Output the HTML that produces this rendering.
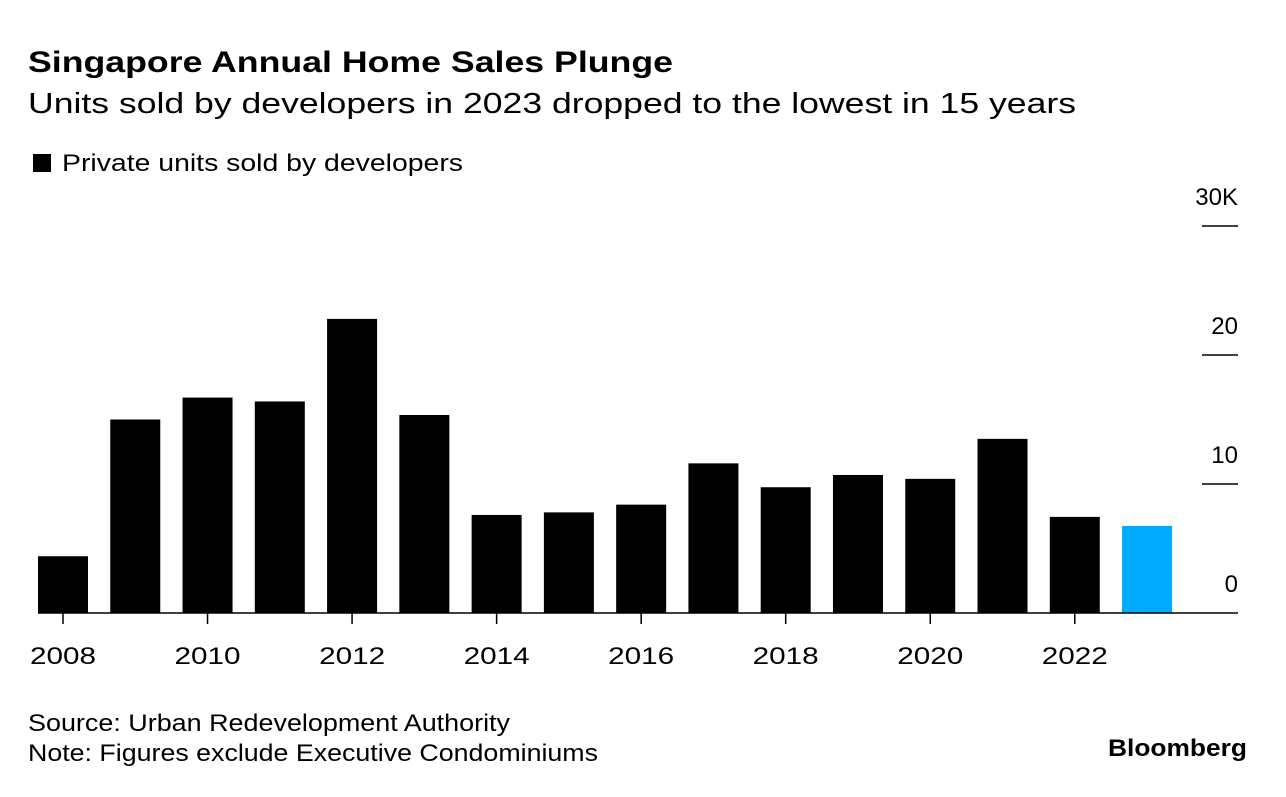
<!DOCTYPE html>
<html><head><meta charset="utf-8"><style>
body{margin:0;background:#fff;width:1286px;height:792px;overflow:hidden;font-family:"Liberation Sans",sans-serif;}
svg text{font-family:"Liberation Sans",sans-serif;}
</style></head><body>
<svg id="c" width="1286" height="792">
<text x="28" y="72" font-size="30" font-weight="bold" textLength="645" lengthAdjust="spacingAndGlyphs">Singapore Annual Home Sales Plunge</text>
<text x="28" y="113" font-size="29" textLength="1048" lengthAdjust="spacingAndGlyphs">Units sold by developers in 2023 dropped to the lowest in 15 years</text>
<rect x="33" y="154" width="18" height="18" fill="#000"/>
<text x="62" y="171" font-size="24" textLength="401" lengthAdjust="spacingAndGlyphs">Private units sold by developers</text>
<g id="grid"></g><g id="bars"></g><g id="xax"></g>
<text x="28" y="731" font-size="24" textLength="482" lengthAdjust="spacingAndGlyphs">Source: Urban Redevelopment Authority</text>
<text x="28" y="761" font-size="24" textLength="570" lengthAdjust="spacingAndGlyphs">Note: Figures exclude Executive Condominiums</text>
<text x="1108" y="756" font-size="24" font-weight="bold" textLength="139" lengthAdjust="spacingAndGlyphs">Bloomberg</text>
</svg>
<script>
const years=[2008,2009,2010,2011,2012,2013,2014,2015,2016,2017,2018,2019,2020,2021,2022,2023];
const units=[4.4,15.0,16.7,16.4,22.8,15.35,7.6,7.8,8.4,11.6,9.75,10.7,10.4,13.5,7.45,6.75];
const yTicks=[0,10,20,30];
const yTickLabels=["0","10","20","30K"];
const NS="http://www.w3.org/2000/svg";
const y0=613,ppu=12.9,x0=63,step=72.27,bw=50;
const Y=v=>y0-v*ppu, X=i=>x0+i*step;
function mk(t,a,p){const e=document.createElementNS(NS,t);for(const k in a)e.setAttribute(k,a[k]);p.appendChild(e);return e;}
const g=document.getElementById('grid'),b=document.getElementById('bars'),xa=document.getElementById('xax');
yTicks.forEach((v,i)=>{
 if(v>0){const l=mk('line',{x1:1202,x2:1238,y1:Y(v),y2:Y(v),stroke:'#000','stroke-width':1.5},g);
 
 }
 const t=mk('text',{x:1238,y:Y(v)-21,'font-size':24,'text-anchor':'end'},g);t.textContent=yTickLabels[i];
 
 
});
years.forEach((yr,i)=>{
 const r=mk('rect',{x:X(i)-bw/2,y:Y(units[i]),width:bw,height:units[i]*ppu,fill:yr===2023?'#00aaff':'#000'},b);
 
 
 if(yr%2===0){
  const tk=mk('line',{x1:X(i),x2:X(i),y1:y0,y2:y0+11,stroke:'#000','stroke-width':1.5},xa);
  
  
  const t=mk('text',{x:X(i)-33,y:664,'font-size':24,textLength:66,lengthAdjust:'spacingAndGlyphs'},xa);t.textContent=yr;
  
  
 }
});
const base=mk('line',{x1:38,x2:1238,y1:y0,y2:y0,stroke:'#000','stroke-width':1.5},xa);


</script>
</body></html>
